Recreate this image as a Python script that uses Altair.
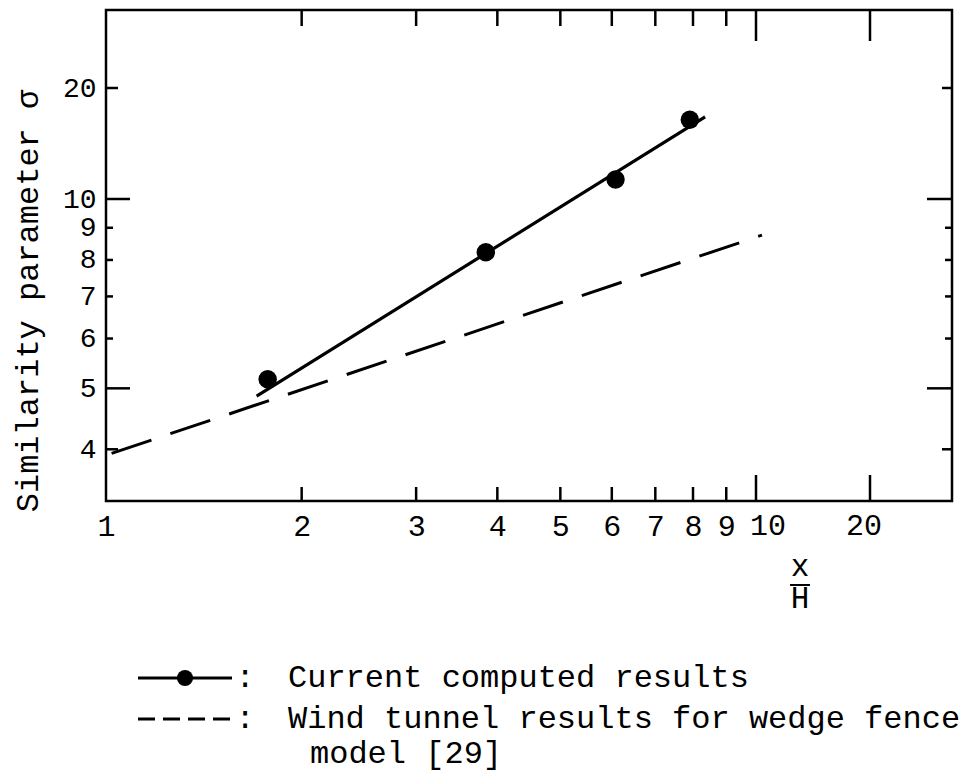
import altair as alt
import pandas as pd

# Current computed results (circles)
COMPUTED_X = [1.773, 3.84, 6.08, 7.91]
COMPUTED_SIGMA = [5.17, 8.23, 11.3, 16.4]

# Straight fit through the computed results
FIT_X = [1.705, 8.35]
FIT_SIGMA = [4.86, 16.7]

# Wind tunnel results for wedge fence model [29]
TUNNEL_X = [1.02, 10.37]
TUNNEL_SIGMA = [3.94, 8.76]

# Axis labels and tick classes
X_LABELS = [1, 2, 3, 4, 5, 6, 7, 8, 9]
X_LABELS_WIDE = [10, 20]
Y_LABELS = [4, 5, 6, 7, 8, 9, 10, 20]
X_TICKS_MINOR = [2, 3, 4, 5, 6, 7, 8, 9]
X_TICKS_MAJOR = [10, 20]
Y_TICKS_LONG = [5, 10]
Y_TICKS_MID = [4, 20]
Y_TICKS_SHORT = [6, 7, 8, 9]

LEGEND_1 = "Current computed results"
LEGEND_2A = "Wind tunnel results for wedge fence"
LEGEND_2B = "model [29]"
Y_TITLE = "Similarity parameter \u03c3"

FONT = "Liberation Mono"
W, H = 846, 491
LABEL_SIZE = 30
Y_LABEL_SIZE = 28
LABEL_PAD = 10

# log-graph-paper axes: the decade 1-10 and the stretch beyond 10 have different spacing
xscale = alt.Scale(type="log", domain=[1, 10, 20, 33], range=[0, 650, 764, W], nice=False)
yscale = alt.Scale(type="log", domain=[3.31, 10, 20, 32.5], range=[H, 189, 78, 0], nice=False)

computed = pd.DataFrame({"x": COMPUTED_X, "s": COMPUTED_SIGMA})
fit = pd.DataFrame({"x": FIT_X, "s": FIT_SIGMA})
tunnel = pd.DataFrame({"x": TUNNEL_X, "s": TUNNEL_SIGMA})

x_axis = alt.Axis(values=X_LABELS, format="d", ticks=False, tickSize=0, domain=False, grid=False,
                  labelFont=FONT, labelFontSize=LABEL_SIZE, labelColor="black", labelPadding=LABEL_PAD,
                  labelOverlap=False, labelFlush=False, title=None)
y_axis = alt.Axis(values=Y_LABELS, format="d", ticks=False, tickSize=0, domain=False, grid=False,
                  labelFont=FONT, labelFontSize=Y_LABEL_SIZE, labelColor="black", labelPadding=LABEL_PAD,
                  labelOverlap=False, labelFlush=False, title=None)


def X(field):
    return alt.X(field, scale=xscale, axis=x_axis)


def Y(field):
    return alt.Y(field, scale=yscale, axis=y_axis)


base_line = alt.Chart(tunnel).mark_line(color="black", strokeWidth=3, strokeDash=[42, 20]).encode(
    x=X("x:Q"), y=Y("s:Q"))
fit_line = alt.Chart(fit).mark_line(color="black", strokeWidth=3.2).encode(
    x=X("x:Q"), y=Y("s:Q"))
points = alt.Chart(computed).mark_point(filled=True, color="black", size=340, opacity=1).encode(
    x=X("x:Q"), y=Y("s:Q"))


# the two-digit labels sit a little off their ticks on this paper
def wide_label(value, dx):
    df = pd.DataFrame({"x": [value]})
    return alt.Chart(df).mark_text(font=FONT, fontSize=LABEL_SIZE, color="black", align="center",
                                   baseline="top", dx=dx).encode(
        x=X("x:Q"), y=alt.value(H + LABEL_PAD), text=alt.Text("x:Q", format="d"))


wide_labels = [wide_label(X_LABELS_WIDE[0], 12), wide_label(X_LABELS_WIDE[1], -6)]


def x_ticks(values, length, top):
    df = pd.DataFrame({"x": values})
    y0, y1 = (0, length) if top else (H, H - length)
    return alt.Chart(df).mark_rule(color="black", strokeWidth=2.5).encode(
        x=X("x:Q"), y=alt.value(y0), y2=alt.value(y1))


def y_ticks(values, length, right):
    df = pd.DataFrame({"s": values})
    x0, x1 = (W, W - length) if right else (0, length)
    return alt.Chart(df).mark_rule(color="black", strokeWidth=2.5).encode(
        y=Y("s:Q"), x=alt.value(x0), x2=alt.value(x1))


ticks = [
    x_ticks(X_TICKS_MINOR, 14, False), x_ticks(X_TICKS_MAJOR, 26, False),
    x_ticks(X_TICKS_MINOR, 16, True), x_ticks(X_TICKS_MAJOR, 31, True),
    y_ticks(Y_TICKS_LONG, 24, False), y_ticks(Y_TICKS_MID, 12, False), y_ticks(Y_TICKS_SHORT, 7, False),
    y_ticks(Y_TICKS_LONG, 25, True), y_ticks(Y_TICKS_MID, 10, True), y_ticks(Y_TICKS_SHORT, 7, True),
]

one = pd.DataFrame({"k": [0]})


def label(text, x, y, size=32, align="left", baseline="alphabetic", angle=0):
    return alt.Chart(one).mark_text(font=FONT, fontSize=size, color="black", align=align,
                                    baseline=baseline, angle=angle).encode(
        x=alt.value(x), y=alt.value(y), text=alt.value(text))


def seg(x0, x1, y, dash=None, width=3):
    kw = {"strokeDash": dash} if dash else {}
    return alt.Chart(one).mark_rule(color="black", strokeWidth=width, **kw).encode(
        x=alt.value(x0), x2=alt.value(x1), y=alt.value(y))


# plot origin sits at (106, 10) of the page
decor = [
    label(Y_TITLE, -78, 291, size=32, align="center", baseline="middle", angle=270),
    # x / H fraction as the abscissa title
    label("x", 694, 566, size=31, align="center"),
    seg(684, 704, 575, width=2),
    label("H", 694, 598, size=31, align="center"),
    # legend
    seg(32, 126, 668),
    alt.Chart(one).mark_point(filled=True, color="black", size=260, opacity=1).encode(
        x=alt.value(79), y=alt.value(668)),
    label(":", 139, 677, align="center"),
    label(LEGEND_1, 182, 677),
    seg(32, 126, 709, dash=[17, 8]),
    label(":", 139, 718, align="center"),
    label(LEGEND_2A, 182, 718),
    label(LEGEND_2B, 204, 753),
]

chart = alt.layer(base_line, fit_line, points, *wide_labels, *ticks, *decor).properties(
    width=W, height=H,
    autosize=alt.AutoSizeParams(type="none"),
    padding={"left": 106, "top": 10, "right": 17, "bottom": 272},
    background="white",
).configure_view(stroke="black", strokeWidth=2.5)

chart.save("out.html", embed_options={"renderer": "svg", "actions": False})
